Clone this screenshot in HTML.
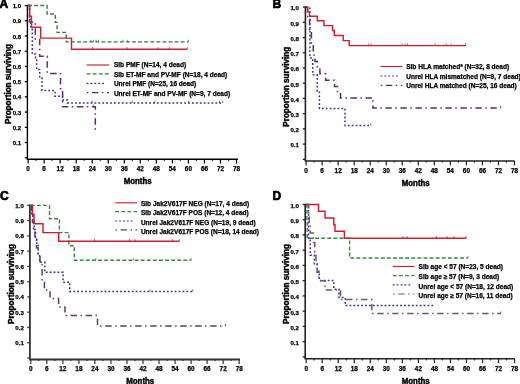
<!DOCTYPE html>
<html><head><meta charset="utf-8"><style>
html,body{margin:0;padding:0;background:#fff;overflow:hidden;width:520px;height:384px;}
svg{display:block;font-family:"Liberation Sans", sans-serif;will-change:transform;}
text{stroke:#000;stroke-width:0.25px;}
</style></head><body>
<svg width="520" height="384" viewBox="0 0 520 384">
<rect width="520" height="384" fill="#fff"/>
<text x="-0.6" y="8.1" font-size="12" font-weight="bold" style="stroke-width:0.7px">A</text>
<line x1="27.4" y1="4.8" x2="27.4" y2="159.2" stroke="#000" stroke-width="1.4"/>
<line x1="24.80" y1="157.70" x2="27.4" y2="157.70" stroke="#000" stroke-width="1.3"/>
<line x1="24.80" y1="142.49" x2="27.4" y2="142.49" stroke="#000" stroke-width="1.3"/>
<text x="21.2" y="145.09" font-size="6.1" font-weight="bold" text-anchor="end">0.1</text>
<line x1="24.80" y1="127.28" x2="27.4" y2="127.28" stroke="#000" stroke-width="1.3"/>
<text x="21.2" y="129.88" font-size="6.1" font-weight="bold" text-anchor="end">0.2</text>
<line x1="24.80" y1="112.07" x2="27.4" y2="112.07" stroke="#000" stroke-width="1.3"/>
<text x="21.2" y="114.67" font-size="6.1" font-weight="bold" text-anchor="end">0.3</text>
<line x1="24.80" y1="96.86" x2="27.4" y2="96.86" stroke="#000" stroke-width="1.3"/>
<text x="21.2" y="99.46" font-size="6.1" font-weight="bold" text-anchor="end">0.4</text>
<line x1="24.80" y1="81.65" x2="27.4" y2="81.65" stroke="#000" stroke-width="1.3"/>
<text x="21.2" y="84.25" font-size="6.1" font-weight="bold" text-anchor="end">0.5</text>
<line x1="24.80" y1="66.44" x2="27.4" y2="66.44" stroke="#000" stroke-width="1.3"/>
<text x="21.2" y="69.04" font-size="6.1" font-weight="bold" text-anchor="end">0.6</text>
<line x1="24.80" y1="51.23" x2="27.4" y2="51.23" stroke="#000" stroke-width="1.3"/>
<text x="21.2" y="53.83" font-size="6.1" font-weight="bold" text-anchor="end">0.7</text>
<line x1="24.80" y1="36.02" x2="27.4" y2="36.02" stroke="#000" stroke-width="1.3"/>
<text x="21.2" y="38.62" font-size="6.1" font-weight="bold" text-anchor="end">0.8</text>
<line x1="24.80" y1="20.81" x2="27.4" y2="20.81" stroke="#000" stroke-width="1.3"/>
<text x="21.2" y="23.41" font-size="6.1" font-weight="bold" text-anchor="end">0.9</text>
<line x1="24.80" y1="5.60" x2="27.4" y2="5.60" stroke="#000" stroke-width="1.3"/>
<text x="21.2" y="8.20" font-size="6.1" font-weight="bold" text-anchor="end">1.0</text>
<line x1="26.7" y1="159.2" x2="237.9" y2="159.2" stroke="#000" stroke-width="1.4"/>
<line x1="28.10" y1="159.2" x2="28.10" y2="163.6" stroke="#000" stroke-width="1.2"/>
<text x="28.10" y="170.9" font-size="6.4" font-weight="bold" text-anchor="middle">0</text>
<line x1="36.12" y1="159.2" x2="36.12" y2="160.79999999999998" stroke="#000" stroke-width="1.2"/>
<line x1="44.13" y1="159.2" x2="44.13" y2="163.6" stroke="#000" stroke-width="1.2"/>
<text x="44.13" y="170.9" font-size="6.4" font-weight="bold" text-anchor="middle">6</text>
<line x1="52.15" y1="159.2" x2="52.15" y2="160.79999999999998" stroke="#000" stroke-width="1.2"/>
<line x1="60.16" y1="159.2" x2="60.16" y2="163.6" stroke="#000" stroke-width="1.2"/>
<text x="60.16" y="170.9" font-size="6.4" font-weight="bold" text-anchor="middle">12</text>
<line x1="68.18" y1="159.2" x2="68.18" y2="160.79999999999998" stroke="#000" stroke-width="1.2"/>
<line x1="76.19" y1="159.2" x2="76.19" y2="163.6" stroke="#000" stroke-width="1.2"/>
<text x="76.19" y="170.9" font-size="6.4" font-weight="bold" text-anchor="middle">18</text>
<line x1="84.21" y1="159.2" x2="84.21" y2="160.79999999999998" stroke="#000" stroke-width="1.2"/>
<line x1="92.22" y1="159.2" x2="92.22" y2="163.6" stroke="#000" stroke-width="1.2"/>
<text x="92.22" y="170.9" font-size="6.4" font-weight="bold" text-anchor="middle">24</text>
<line x1="100.24" y1="159.2" x2="100.24" y2="160.79999999999998" stroke="#000" stroke-width="1.2"/>
<line x1="108.25" y1="159.2" x2="108.25" y2="163.6" stroke="#000" stroke-width="1.2"/>
<text x="108.25" y="170.9" font-size="6.4" font-weight="bold" text-anchor="middle">30</text>
<line x1="116.27" y1="159.2" x2="116.27" y2="160.79999999999998" stroke="#000" stroke-width="1.2"/>
<line x1="124.28" y1="159.2" x2="124.28" y2="163.6" stroke="#000" stroke-width="1.2"/>
<text x="124.28" y="170.9" font-size="6.4" font-weight="bold" text-anchor="middle">36</text>
<line x1="132.30" y1="159.2" x2="132.30" y2="160.79999999999998" stroke="#000" stroke-width="1.2"/>
<line x1="140.31" y1="159.2" x2="140.31" y2="163.6" stroke="#000" stroke-width="1.2"/>
<text x="140.31" y="170.9" font-size="6.4" font-weight="bold" text-anchor="middle">42</text>
<line x1="148.33" y1="159.2" x2="148.33" y2="160.79999999999998" stroke="#000" stroke-width="1.2"/>
<line x1="156.34" y1="159.2" x2="156.34" y2="163.6" stroke="#000" stroke-width="1.2"/>
<text x="156.34" y="170.9" font-size="6.4" font-weight="bold" text-anchor="middle">48</text>
<line x1="164.35" y1="159.2" x2="164.35" y2="160.79999999999998" stroke="#000" stroke-width="1.2"/>
<line x1="172.37" y1="159.2" x2="172.37" y2="163.6" stroke="#000" stroke-width="1.2"/>
<text x="172.37" y="170.9" font-size="6.4" font-weight="bold" text-anchor="middle">54</text>
<line x1="180.39" y1="159.2" x2="180.39" y2="160.79999999999998" stroke="#000" stroke-width="1.2"/>
<line x1="188.40" y1="159.2" x2="188.40" y2="163.6" stroke="#000" stroke-width="1.2"/>
<text x="188.40" y="170.9" font-size="6.4" font-weight="bold" text-anchor="middle">60</text>
<line x1="196.41" y1="159.2" x2="196.41" y2="160.79999999999998" stroke="#000" stroke-width="1.2"/>
<line x1="204.43" y1="159.2" x2="204.43" y2="163.6" stroke="#000" stroke-width="1.2"/>
<text x="204.43" y="170.9" font-size="6.4" font-weight="bold" text-anchor="middle">66</text>
<line x1="212.45" y1="159.2" x2="212.45" y2="160.79999999999998" stroke="#000" stroke-width="1.2"/>
<line x1="220.46" y1="159.2" x2="220.46" y2="163.6" stroke="#000" stroke-width="1.2"/>
<text x="220.46" y="170.9" font-size="6.4" font-weight="bold" text-anchor="middle">72</text>
<line x1="228.47" y1="159.2" x2="228.47" y2="160.79999999999998" stroke="#000" stroke-width="1.2"/>
<line x1="236.49" y1="159.2" x2="236.49" y2="163.6" stroke="#000" stroke-width="1.2"/>
<text x="236.49" y="170.9" font-size="6.4" font-weight="bold" text-anchor="middle">78</text>
<text x="123.7" y="183.8" font-size="8.6" font-weight="bold" textLength="27.9" lengthAdjust="spacingAndGlyphs" style="stroke-width:0.45px">Months</text>
<text transform="translate(10.9,84.0) rotate(-90)" x="0" y="0" font-size="8.15" font-weight="bold" text-anchor="middle" style="stroke-width:0.4px">Proportion surviving</text>
<text x="272.6" y="8.1" font-size="12" font-weight="bold" style="stroke-width:0.7px">B</text>
<line x1="305.4" y1="6.3" x2="305.4" y2="161.0" stroke="#222" stroke-width="1.6"/>
<line x1="302.80" y1="159.30" x2="305.4" y2="159.30" stroke="#222" stroke-width="1.3"/>
<line x1="302.80" y1="144.08" x2="305.4" y2="144.08" stroke="#222" stroke-width="1.3"/>
<text x="298.9" y="147.38" font-size="6.1" font-weight="bold" text-anchor="end">0.1</text>
<line x1="302.80" y1="128.86" x2="305.4" y2="128.86" stroke="#222" stroke-width="1.3"/>
<text x="298.9" y="132.16" font-size="6.1" font-weight="bold" text-anchor="end">0.2</text>
<line x1="302.80" y1="113.64" x2="305.4" y2="113.64" stroke="#222" stroke-width="1.3"/>
<text x="298.9" y="116.94" font-size="6.1" font-weight="bold" text-anchor="end">0.3</text>
<line x1="302.80" y1="98.42" x2="305.4" y2="98.42" stroke="#222" stroke-width="1.3"/>
<text x="298.9" y="101.72" font-size="6.1" font-weight="bold" text-anchor="end">0.4</text>
<line x1="302.80" y1="83.20" x2="305.4" y2="83.20" stroke="#222" stroke-width="1.3"/>
<text x="298.9" y="86.50" font-size="6.1" font-weight="bold" text-anchor="end">0.5</text>
<line x1="302.80" y1="67.98" x2="305.4" y2="67.98" stroke="#222" stroke-width="1.3"/>
<text x="298.9" y="71.28" font-size="6.1" font-weight="bold" text-anchor="end">0.6</text>
<line x1="302.80" y1="52.76" x2="305.4" y2="52.76" stroke="#222" stroke-width="1.3"/>
<text x="298.9" y="56.06" font-size="6.1" font-weight="bold" text-anchor="end">0.7</text>
<line x1="302.80" y1="37.54" x2="305.4" y2="37.54" stroke="#222" stroke-width="1.3"/>
<text x="298.9" y="40.84" font-size="6.1" font-weight="bold" text-anchor="end">0.8</text>
<line x1="302.80" y1="22.32" x2="305.4" y2="22.32" stroke="#222" stroke-width="1.3"/>
<text x="298.9" y="25.62" font-size="6.1" font-weight="bold" text-anchor="end">0.9</text>
<line x1="302.80" y1="7.10" x2="305.4" y2="7.10" stroke="#222" stroke-width="1.3"/>
<text x="298.9" y="10.40" font-size="6.1" font-weight="bold" text-anchor="end">1.0</text>
<line x1="304.7" y1="161.0" x2="514.6" y2="161.0" stroke="#222" stroke-width="1.6"/>
<line x1="306.10" y1="161.0" x2="306.10" y2="165.4" stroke="#222" stroke-width="1.2"/>
<text x="306.10" y="172.7" font-size="6.4" font-weight="bold" text-anchor="middle">0</text>
<line x1="314.12" y1="161.0" x2="314.12" y2="162.6" stroke="#222" stroke-width="1.2"/>
<line x1="322.13" y1="161.0" x2="322.13" y2="165.4" stroke="#222" stroke-width="1.2"/>
<text x="322.13" y="172.7" font-size="6.4" font-weight="bold" text-anchor="middle">6</text>
<line x1="330.15" y1="161.0" x2="330.15" y2="162.6" stroke="#222" stroke-width="1.2"/>
<line x1="338.16" y1="161.0" x2="338.16" y2="165.4" stroke="#222" stroke-width="1.2"/>
<text x="338.16" y="172.7" font-size="6.4" font-weight="bold" text-anchor="middle">12</text>
<line x1="346.18" y1="161.0" x2="346.18" y2="162.6" stroke="#222" stroke-width="1.2"/>
<line x1="354.19" y1="161.0" x2="354.19" y2="165.4" stroke="#222" stroke-width="1.2"/>
<text x="354.19" y="172.7" font-size="6.4" font-weight="bold" text-anchor="middle">18</text>
<line x1="362.21" y1="161.0" x2="362.21" y2="162.6" stroke="#222" stroke-width="1.2"/>
<line x1="370.22" y1="161.0" x2="370.22" y2="165.4" stroke="#222" stroke-width="1.2"/>
<text x="370.22" y="172.7" font-size="6.4" font-weight="bold" text-anchor="middle">24</text>
<line x1="378.24" y1="161.0" x2="378.24" y2="162.6" stroke="#222" stroke-width="1.2"/>
<line x1="386.25" y1="161.0" x2="386.25" y2="165.4" stroke="#222" stroke-width="1.2"/>
<text x="386.25" y="172.7" font-size="6.4" font-weight="bold" text-anchor="middle">30</text>
<line x1="394.27" y1="161.0" x2="394.27" y2="162.6" stroke="#222" stroke-width="1.2"/>
<line x1="402.28" y1="161.0" x2="402.28" y2="165.4" stroke="#222" stroke-width="1.2"/>
<text x="402.28" y="172.7" font-size="6.4" font-weight="bold" text-anchor="middle">36</text>
<line x1="410.30" y1="161.0" x2="410.30" y2="162.6" stroke="#222" stroke-width="1.2"/>
<line x1="418.31" y1="161.0" x2="418.31" y2="165.4" stroke="#222" stroke-width="1.2"/>
<text x="418.31" y="172.7" font-size="6.4" font-weight="bold" text-anchor="middle">42</text>
<line x1="426.33" y1="161.0" x2="426.33" y2="162.6" stroke="#222" stroke-width="1.2"/>
<line x1="434.34" y1="161.0" x2="434.34" y2="165.4" stroke="#222" stroke-width="1.2"/>
<text x="434.34" y="172.7" font-size="6.4" font-weight="bold" text-anchor="middle">48</text>
<line x1="442.36" y1="161.0" x2="442.36" y2="162.6" stroke="#222" stroke-width="1.2"/>
<line x1="450.37" y1="161.0" x2="450.37" y2="165.4" stroke="#222" stroke-width="1.2"/>
<text x="450.37" y="172.7" font-size="6.4" font-weight="bold" text-anchor="middle">54</text>
<line x1="458.39" y1="161.0" x2="458.39" y2="162.6" stroke="#222" stroke-width="1.2"/>
<line x1="466.40" y1="161.0" x2="466.40" y2="165.4" stroke="#222" stroke-width="1.2"/>
<text x="466.40" y="172.7" font-size="6.4" font-weight="bold" text-anchor="middle">60</text>
<line x1="474.42" y1="161.0" x2="474.42" y2="162.6" stroke="#222" stroke-width="1.2"/>
<line x1="482.43" y1="161.0" x2="482.43" y2="165.4" stroke="#222" stroke-width="1.2"/>
<text x="482.43" y="172.7" font-size="6.4" font-weight="bold" text-anchor="middle">66</text>
<line x1="490.45" y1="161.0" x2="490.45" y2="162.6" stroke="#222" stroke-width="1.2"/>
<line x1="498.46" y1="161.0" x2="498.46" y2="165.4" stroke="#222" stroke-width="1.2"/>
<text x="498.46" y="172.7" font-size="6.4" font-weight="bold" text-anchor="middle">72</text>
<line x1="506.48" y1="161.0" x2="506.48" y2="162.6" stroke="#222" stroke-width="1.2"/>
<line x1="514.49" y1="161.0" x2="514.49" y2="165.4" stroke="#222" stroke-width="1.2"/>
<text x="514.49" y="172.7" font-size="6.4" font-weight="bold" text-anchor="middle">78</text>
<text x="401.8" y="186.3" font-size="8.6" font-weight="bold" textLength="27.9" lengthAdjust="spacingAndGlyphs" style="stroke-width:0.45px">Months</text>
<text transform="translate(289.0,86.75) rotate(-90)" x="0" y="0" font-size="8.15" font-weight="bold" text-anchor="middle" style="stroke-width:0.4px">Proportion surviving</text>
<text x="0.0" y="200.4" font-size="12" font-weight="bold" style="stroke-width:0.7px">C</text>
<line x1="29.9" y1="204.5" x2="29.9" y2="359.5" stroke="#333" stroke-width="1.8"/>
<line x1="27.30" y1="358.00" x2="29.9" y2="358.00" stroke="#333" stroke-width="1.3"/>
<line x1="27.30" y1="342.73" x2="29.9" y2="342.73" stroke="#333" stroke-width="1.3"/>
<text x="23.8" y="345.23" font-size="6.1" font-weight="bold" text-anchor="end">0.1</text>
<line x1="27.30" y1="327.46" x2="29.9" y2="327.46" stroke="#333" stroke-width="1.3"/>
<text x="23.8" y="329.96" font-size="6.1" font-weight="bold" text-anchor="end">0.2</text>
<line x1="27.30" y1="312.19" x2="29.9" y2="312.19" stroke="#333" stroke-width="1.3"/>
<text x="23.8" y="314.69" font-size="6.1" font-weight="bold" text-anchor="end">0.3</text>
<line x1="27.30" y1="296.92" x2="29.9" y2="296.92" stroke="#333" stroke-width="1.3"/>
<text x="23.8" y="299.42" font-size="6.1" font-weight="bold" text-anchor="end">0.4</text>
<line x1="27.30" y1="281.65" x2="29.9" y2="281.65" stroke="#333" stroke-width="1.3"/>
<text x="23.8" y="284.15" font-size="6.1" font-weight="bold" text-anchor="end">0.5</text>
<line x1="27.30" y1="266.38" x2="29.9" y2="266.38" stroke="#333" stroke-width="1.3"/>
<text x="23.8" y="268.88" font-size="6.1" font-weight="bold" text-anchor="end">0.6</text>
<line x1="27.30" y1="251.11" x2="29.9" y2="251.11" stroke="#333" stroke-width="1.3"/>
<text x="23.8" y="253.61" font-size="6.1" font-weight="bold" text-anchor="end">0.7</text>
<line x1="27.30" y1="235.84" x2="29.9" y2="235.84" stroke="#333" stroke-width="1.3"/>
<text x="23.8" y="238.34" font-size="6.1" font-weight="bold" text-anchor="end">0.8</text>
<line x1="27.30" y1="220.57" x2="29.9" y2="220.57" stroke="#333" stroke-width="1.3"/>
<text x="23.8" y="223.07" font-size="6.1" font-weight="bold" text-anchor="end">0.9</text>
<line x1="27.30" y1="205.30" x2="29.9" y2="205.30" stroke="#333" stroke-width="1.3"/>
<text x="23.8" y="207.80" font-size="6.1" font-weight="bold" text-anchor="end">1.0</text>
<line x1="29.2" y1="359.5" x2="240.0" y2="359.5" stroke="#333" stroke-width="1.8"/>
<line x1="30.80" y1="359.5" x2="30.80" y2="363.9" stroke="#333" stroke-width="1.2"/>
<text x="30.80" y="371.35" font-size="6.4" font-weight="bold" text-anchor="middle">0</text>
<line x1="38.81" y1="359.5" x2="38.81" y2="361.1" stroke="#333" stroke-width="1.2"/>
<line x1="46.83" y1="359.5" x2="46.83" y2="363.9" stroke="#333" stroke-width="1.2"/>
<text x="46.83" y="371.35" font-size="6.4" font-weight="bold" text-anchor="middle">6</text>
<line x1="54.84" y1="359.5" x2="54.84" y2="361.1" stroke="#333" stroke-width="1.2"/>
<line x1="62.86" y1="359.5" x2="62.86" y2="363.9" stroke="#333" stroke-width="1.2"/>
<text x="62.86" y="371.35" font-size="6.4" font-weight="bold" text-anchor="middle">12</text>
<line x1="70.88" y1="359.5" x2="70.88" y2="361.1" stroke="#333" stroke-width="1.2"/>
<line x1="78.89" y1="359.5" x2="78.89" y2="363.9" stroke="#333" stroke-width="1.2"/>
<text x="78.89" y="371.35" font-size="6.4" font-weight="bold" text-anchor="middle">18</text>
<line x1="86.91" y1="359.5" x2="86.91" y2="361.1" stroke="#333" stroke-width="1.2"/>
<line x1="94.92" y1="359.5" x2="94.92" y2="363.9" stroke="#333" stroke-width="1.2"/>
<text x="94.92" y="371.35" font-size="6.4" font-weight="bold" text-anchor="middle">24</text>
<line x1="102.94" y1="359.5" x2="102.94" y2="361.1" stroke="#333" stroke-width="1.2"/>
<line x1="110.95" y1="359.5" x2="110.95" y2="363.9" stroke="#333" stroke-width="1.2"/>
<text x="110.95" y="371.35" font-size="6.4" font-weight="bold" text-anchor="middle">30</text>
<line x1="118.97" y1="359.5" x2="118.97" y2="361.1" stroke="#333" stroke-width="1.2"/>
<line x1="126.98" y1="359.5" x2="126.98" y2="363.9" stroke="#333" stroke-width="1.2"/>
<text x="126.98" y="371.35" font-size="6.4" font-weight="bold" text-anchor="middle">36</text>
<line x1="135.00" y1="359.5" x2="135.00" y2="361.1" stroke="#333" stroke-width="1.2"/>
<line x1="143.01" y1="359.5" x2="143.01" y2="363.9" stroke="#333" stroke-width="1.2"/>
<text x="143.01" y="371.35" font-size="6.4" font-weight="bold" text-anchor="middle">42</text>
<line x1="151.03" y1="359.5" x2="151.03" y2="361.1" stroke="#333" stroke-width="1.2"/>
<line x1="159.04" y1="359.5" x2="159.04" y2="363.9" stroke="#333" stroke-width="1.2"/>
<text x="159.04" y="371.35" font-size="6.4" font-weight="bold" text-anchor="middle">48</text>
<line x1="167.06" y1="359.5" x2="167.06" y2="361.1" stroke="#333" stroke-width="1.2"/>
<line x1="175.07" y1="359.5" x2="175.07" y2="363.9" stroke="#333" stroke-width="1.2"/>
<text x="175.07" y="371.35" font-size="6.4" font-weight="bold" text-anchor="middle">54</text>
<line x1="183.09" y1="359.5" x2="183.09" y2="361.1" stroke="#333" stroke-width="1.2"/>
<line x1="191.10" y1="359.5" x2="191.10" y2="363.9" stroke="#333" stroke-width="1.2"/>
<text x="191.10" y="371.35" font-size="6.4" font-weight="bold" text-anchor="middle">60</text>
<line x1="199.12" y1="359.5" x2="199.12" y2="361.1" stroke="#333" stroke-width="1.2"/>
<line x1="207.13" y1="359.5" x2="207.13" y2="363.9" stroke="#333" stroke-width="1.2"/>
<text x="207.13" y="371.35" font-size="6.4" font-weight="bold" text-anchor="middle">66</text>
<line x1="215.15" y1="359.5" x2="215.15" y2="361.1" stroke="#333" stroke-width="1.2"/>
<line x1="223.16" y1="359.5" x2="223.16" y2="363.9" stroke="#333" stroke-width="1.2"/>
<text x="223.16" y="371.35" font-size="6.4" font-weight="bold" text-anchor="middle">72</text>
<line x1="231.18" y1="359.5" x2="231.18" y2="361.1" stroke="#333" stroke-width="1.2"/>
<line x1="239.19" y1="359.5" x2="239.19" y2="363.9" stroke="#333" stroke-width="1.2"/>
<text x="239.19" y="371.35" font-size="6.4" font-weight="bold" text-anchor="middle">78</text>
<text x="126.3" y="383.8" font-size="8.6" font-weight="bold" textLength="27.9" lengthAdjust="spacingAndGlyphs" style="stroke-width:0.45px">Months</text>
<text transform="translate(14.0,284.0) rotate(-90)" x="0" y="0" font-size="8.15" font-weight="bold" text-anchor="middle" style="stroke-width:0.4px">Proportion surviving</text>
<text x="272.4" y="200.3" font-size="12" font-weight="bold" style="stroke-width:0.7px">D</text>
<line x1="305.2" y1="203.7" x2="305.2" y2="358.8" stroke="#222" stroke-width="1.6"/>
<line x1="302.60" y1="356.90" x2="305.2" y2="356.90" stroke="#222" stroke-width="1.3"/>
<line x1="302.60" y1="341.66" x2="305.2" y2="341.66" stroke="#222" stroke-width="1.3"/>
<text x="298.9" y="345.06" font-size="6.1" font-weight="bold" text-anchor="end">0.1</text>
<line x1="302.60" y1="326.42" x2="305.2" y2="326.42" stroke="#222" stroke-width="1.3"/>
<text x="298.9" y="329.82" font-size="6.1" font-weight="bold" text-anchor="end">0.2</text>
<line x1="302.60" y1="311.18" x2="305.2" y2="311.18" stroke="#222" stroke-width="1.3"/>
<text x="298.9" y="314.58" font-size="6.1" font-weight="bold" text-anchor="end">0.3</text>
<line x1="302.60" y1="295.94" x2="305.2" y2="295.94" stroke="#222" stroke-width="1.3"/>
<text x="298.9" y="299.34" font-size="6.1" font-weight="bold" text-anchor="end">0.4</text>
<line x1="302.60" y1="280.70" x2="305.2" y2="280.70" stroke="#222" stroke-width="1.3"/>
<text x="298.9" y="284.10" font-size="6.1" font-weight="bold" text-anchor="end">0.5</text>
<line x1="302.60" y1="265.46" x2="305.2" y2="265.46" stroke="#222" stroke-width="1.3"/>
<text x="298.9" y="268.86" font-size="6.1" font-weight="bold" text-anchor="end">0.6</text>
<line x1="302.60" y1="250.22" x2="305.2" y2="250.22" stroke="#222" stroke-width="1.3"/>
<text x="298.9" y="253.62" font-size="6.1" font-weight="bold" text-anchor="end">0.7</text>
<line x1="302.60" y1="234.98" x2="305.2" y2="234.98" stroke="#222" stroke-width="1.3"/>
<text x="298.9" y="238.38" font-size="6.1" font-weight="bold" text-anchor="end">0.8</text>
<line x1="302.60" y1="219.74" x2="305.2" y2="219.74" stroke="#222" stroke-width="1.3"/>
<text x="298.9" y="223.14" font-size="6.1" font-weight="bold" text-anchor="end">0.9</text>
<line x1="302.60" y1="204.50" x2="305.2" y2="204.50" stroke="#222" stroke-width="1.3"/>
<text x="298.9" y="207.90" font-size="6.1" font-weight="bold" text-anchor="end">1.0</text>
<line x1="304.5" y1="358.8" x2="514.6" y2="358.8" stroke="#222" stroke-width="1.6"/>
<line x1="306.20" y1="358.8" x2="306.20" y2="363.2" stroke="#222" stroke-width="1.2"/>
<text x="306.20" y="371.4" font-size="6.4" font-weight="bold" text-anchor="middle">0</text>
<line x1="314.21" y1="358.8" x2="314.21" y2="360.40000000000003" stroke="#222" stroke-width="1.2"/>
<line x1="322.23" y1="358.8" x2="322.23" y2="363.2" stroke="#222" stroke-width="1.2"/>
<text x="322.23" y="371.4" font-size="6.4" font-weight="bold" text-anchor="middle">6</text>
<line x1="330.25" y1="358.8" x2="330.25" y2="360.40000000000003" stroke="#222" stroke-width="1.2"/>
<line x1="338.26" y1="358.8" x2="338.26" y2="363.2" stroke="#222" stroke-width="1.2"/>
<text x="338.26" y="371.4" font-size="6.4" font-weight="bold" text-anchor="middle">12</text>
<line x1="346.27" y1="358.8" x2="346.27" y2="360.40000000000003" stroke="#222" stroke-width="1.2"/>
<line x1="354.29" y1="358.8" x2="354.29" y2="363.2" stroke="#222" stroke-width="1.2"/>
<text x="354.29" y="371.4" font-size="6.4" font-weight="bold" text-anchor="middle">18</text>
<line x1="362.31" y1="358.8" x2="362.31" y2="360.40000000000003" stroke="#222" stroke-width="1.2"/>
<line x1="370.32" y1="358.8" x2="370.32" y2="363.2" stroke="#222" stroke-width="1.2"/>
<text x="370.32" y="371.4" font-size="6.4" font-weight="bold" text-anchor="middle">24</text>
<line x1="378.33" y1="358.8" x2="378.33" y2="360.40000000000003" stroke="#222" stroke-width="1.2"/>
<line x1="386.35" y1="358.8" x2="386.35" y2="363.2" stroke="#222" stroke-width="1.2"/>
<text x="386.35" y="371.4" font-size="6.4" font-weight="bold" text-anchor="middle">30</text>
<line x1="394.37" y1="358.8" x2="394.37" y2="360.40000000000003" stroke="#222" stroke-width="1.2"/>
<line x1="402.38" y1="358.8" x2="402.38" y2="363.2" stroke="#222" stroke-width="1.2"/>
<text x="402.38" y="371.4" font-size="6.4" font-weight="bold" text-anchor="middle">36</text>
<line x1="410.39" y1="358.8" x2="410.39" y2="360.40000000000003" stroke="#222" stroke-width="1.2"/>
<line x1="418.41" y1="358.8" x2="418.41" y2="363.2" stroke="#222" stroke-width="1.2"/>
<text x="418.41" y="371.4" font-size="6.4" font-weight="bold" text-anchor="middle">42</text>
<line x1="426.43" y1="358.8" x2="426.43" y2="360.40000000000003" stroke="#222" stroke-width="1.2"/>
<line x1="434.44" y1="358.8" x2="434.44" y2="363.2" stroke="#222" stroke-width="1.2"/>
<text x="434.44" y="371.4" font-size="6.4" font-weight="bold" text-anchor="middle">48</text>
<line x1="442.45" y1="358.8" x2="442.45" y2="360.40000000000003" stroke="#222" stroke-width="1.2"/>
<line x1="450.47" y1="358.8" x2="450.47" y2="363.2" stroke="#222" stroke-width="1.2"/>
<text x="450.47" y="371.4" font-size="6.4" font-weight="bold" text-anchor="middle">54</text>
<line x1="458.49" y1="358.8" x2="458.49" y2="360.40000000000003" stroke="#222" stroke-width="1.2"/>
<line x1="466.50" y1="358.8" x2="466.50" y2="363.2" stroke="#222" stroke-width="1.2"/>
<text x="466.50" y="371.4" font-size="6.4" font-weight="bold" text-anchor="middle">60</text>
<line x1="474.51" y1="358.8" x2="474.51" y2="360.40000000000003" stroke="#222" stroke-width="1.2"/>
<line x1="482.53" y1="358.8" x2="482.53" y2="363.2" stroke="#222" stroke-width="1.2"/>
<text x="482.53" y="371.4" font-size="6.4" font-weight="bold" text-anchor="middle">66</text>
<line x1="490.55" y1="358.8" x2="490.55" y2="360.40000000000003" stroke="#222" stroke-width="1.2"/>
<line x1="498.56" y1="358.8" x2="498.56" y2="363.2" stroke="#222" stroke-width="1.2"/>
<text x="498.56" y="371.4" font-size="6.4" font-weight="bold" text-anchor="middle">72</text>
<line x1="506.57" y1="358.8" x2="506.57" y2="360.40000000000003" stroke="#222" stroke-width="1.2"/>
<line x1="514.59" y1="358.8" x2="514.59" y2="363.2" stroke="#222" stroke-width="1.2"/>
<text x="514.59" y="371.4" font-size="6.4" font-weight="bold" text-anchor="middle">78</text>
<text x="401.8" y="383.8" font-size="8.6" font-weight="bold" textLength="27.9" lengthAdjust="spacingAndGlyphs" style="stroke-width:0.45px">Months</text>
<text transform="translate(289.0,284.0) rotate(-90)" x="0" y="0" font-size="8.15" font-weight="bold" text-anchor="middle" style="stroke-width:0.4px">Proportion surviving</text>
<polyline points="28.10,5.50 29.60,5.50 29.60,17.00 31.00,17.00 31.00,28.00 32.30,28.00 32.30,54.00 35.50,54.00 35.50,60.00 36.60,60.00 36.60,69.40 39.70,69.40 39.70,78.00 42.00,78.00 42.00,90.60 55.00,90.60 55.00,96.30 62.50,96.30 62.50,100.00 67.50,100.00 67.50,102.90 222.70,102.90" fill="none" stroke="#2e2ea6" stroke-width="1.50" stroke-dasharray="1.8 2.1"/>
<polyline points="28.10,5.50 29.60,5.50 29.60,21.90 35.30,21.90 35.30,39.20 39.70,39.20 39.70,56.30 47.30,56.30 47.30,73.40 60.50,73.40 60.50,89.90 62.60,89.90 62.60,106.70 95.30,106.70 95.30,133.00" fill="none" stroke="#6a2474" stroke-width="1.50" stroke-dasharray="6.4 3.5 1.5 3.6"/>
<polyline points="28.10,5.50 47.10,5.50 47.10,14.00 55.30,14.00 55.30,22.40 57.10,22.40 57.10,32.40 66.30,32.40 66.30,41.90 188.30,41.90" fill="none" stroke="#2f7f3a" stroke-width="1.40" stroke-dasharray="3.9 2.2"/>
<polyline points="28.10,5.50 29.60,5.50 29.60,16.30 31.50,16.30 31.50,27.30 40.70,27.30 40.70,38.10 71.50,38.10 71.50,49.25 187.30,49.25" fill="none" stroke="#cc2030" stroke-width="1.45"/>
<line x1="92.5" y1="47.15" x2="92.5" y2="49.25" stroke="#cc2030" stroke-width="0.8"/>
<line x1="127.1" y1="47.15" x2="127.1" y2="49.25" stroke="#cc2030" stroke-width="0.8"/>
<line x1="158" y1="47.15" x2="158" y2="49.25" stroke="#cc2030" stroke-width="0.8"/>
<line x1="169.4" y1="47.15" x2="169.4" y2="49.25" stroke="#cc2030" stroke-width="0.8"/>
<line x1="187.2" y1="47.15" x2="187.2" y2="49.25" stroke="#cc2030" stroke-width="0.8"/>
<line x1="91" y1="39.80" x2="91" y2="41.9" stroke="#2f7f3a" stroke-width="0.8"/>
<line x1="93.5" y1="39.80" x2="93.5" y2="41.9" stroke="#2f7f3a" stroke-width="0.8"/>
<line x1="96" y1="39.80" x2="96" y2="41.9" stroke="#2f7f3a" stroke-width="0.8"/>
<line x1="98.3" y1="39.80" x2="98.3" y2="41.9" stroke="#2f7f3a" stroke-width="0.8"/>
<line x1="123" y1="39.80" x2="123" y2="41.9" stroke="#2f7f3a" stroke-width="0.8"/>
<line x1="127.7" y1="39.80" x2="127.7" y2="41.9" stroke="#2f7f3a" stroke-width="0.8"/>
<line x1="188.3" y1="39.80" x2="188.3" y2="41.9" stroke="#2f7f3a" stroke-width="0.8"/>
<line x1="92.2" y1="100.80" x2="92.2" y2="102.9" stroke="#2e2ea6" stroke-width="0.8"/>
<line x1="132.2" y1="100.80" x2="132.2" y2="102.9" stroke="#2e2ea6" stroke-width="0.8"/>
<line x1="154.8" y1="100.80" x2="154.8" y2="102.9" stroke="#2e2ea6" stroke-width="0.8"/>
<line x1="188.6" y1="100.80" x2="188.6" y2="102.9" stroke="#2e2ea6" stroke-width="0.8"/>
<line x1="219.4" y1="100.80" x2="219.4" y2="102.9" stroke="#2e2ea6" stroke-width="0.8"/>
<line x1="222.7" y1="100.80" x2="222.7" y2="102.9" stroke="#2e2ea6" stroke-width="0.8"/>
<line x1="93.7" y1="104.60" x2="93.7" y2="106.7" stroke="#6a2474" stroke-width="0.8"/>
<line x1="86.6" y1="65.0" x2="109.0" y2="65.0" fill="none" stroke="#cc2030" stroke-width="1.16"/>
<text x="113.9" y="67.15" font-size="6.55" font-weight="bold">Sib PMF (N=14, 4 dead)</text>
<line x1="86.6" y1="73.9" x2="109.0" y2="73.9" fill="none" stroke="#2f7f3a" stroke-width="1.12" stroke-dasharray="3.9 2.2"/>
<text x="113.9" y="76.50" font-size="6.55" font-weight="bold">Sib ET-MF and PV-MF (N=18, 4 dead)</text>
<line x1="86.6" y1="83.3" x2="104.6" y2="83.3" fill="none" stroke="#2e2ea6" stroke-width="1.20" stroke-dasharray="1.8 2.1"/>
<text x="113.9" y="86.20" font-size="6.55" font-weight="bold">Unrel PMF (N=25, 16 dead)</text>
<line x1="86.6" y1="92.7" x2="109.0" y2="92.7" fill="none" stroke="#6a2474" stroke-width="1.20" stroke-dasharray="6.4 3.5 1.5 3.6" stroke-dashoffset="9.6"/>
<text x="113.9" y="95.60" font-size="6.55" font-weight="bold">Unrel ET-MF and PV-MF (N=9, 7 dead)</text>
<polyline points="306.10,7.30 309.90,7.30 309.90,57.90 312.70,57.90 312.70,74.80 317.30,74.80 317.30,91.30 319.40,91.30 319.40,108.50 345.00,108.50 345.00,125.50 371.00,125.50" fill="none" stroke="#2e2ea6" stroke-width="1.50" stroke-dasharray="1.8 2.1"/>
<polyline points="306.10,7.30 307.60,7.30 307.60,19.40 309.60,19.40 309.60,31.60 311.40,31.60 311.40,43.30 313.30,43.30 313.30,55.00 315.00,55.00 315.00,61.50 317.30,61.50 317.30,67.60 319.90,67.60 319.90,73.80 325.60,73.80 325.60,80.20 334.50,80.20 334.50,86.50 337.50,86.50 337.50,92.30 340.50,92.30 340.50,97.90 373.00,97.90 373.00,108.00 500.70,108.00" fill="none" stroke="#5c2a6a" stroke-width="1.50" stroke-dasharray="6.4 3.5 1.5 3.6"/>
<polyline points="306.10,7.30 307.50,7.30 307.50,11.70 309.50,11.70 309.50,16.20 317.30,16.20 317.30,20.80 323.90,20.80 323.90,25.60 332.60,25.60 332.60,30.50 334.30,30.50 334.30,35.50 343.20,35.50 343.20,40.60 349.20,40.60 349.20,45.60 466.00,45.60" fill="none" stroke="#cc2030" stroke-width="1.45"/>
<line x1="368.8" y1="43.50" x2="368.8" y2="45.6" stroke="#cc2030" stroke-width="0.8"/>
<line x1="371" y1="43.50" x2="371" y2="45.6" stroke="#cc2030" stroke-width="0.8"/>
<line x1="402" y1="43.50" x2="402" y2="45.6" stroke="#cc2030" stroke-width="0.8"/>
<line x1="405" y1="43.50" x2="405" y2="45.6" stroke="#cc2030" stroke-width="0.8"/>
<line x1="407.5" y1="43.50" x2="407.5" y2="45.6" stroke="#cc2030" stroke-width="0.8"/>
<line x1="435" y1="43.50" x2="435" y2="45.6" stroke="#cc2030" stroke-width="0.8"/>
<line x1="446" y1="43.50" x2="446" y2="45.6" stroke="#cc2030" stroke-width="0.8"/>
<line x1="451" y1="43.50" x2="451" y2="45.6" stroke="#cc2030" stroke-width="0.8"/>
<line x1="465.5" y1="43.50" x2="465.5" y2="45.6" stroke="#cc2030" stroke-width="0.8"/>
<line x1="500.6" y1="105.90" x2="500.6" y2="108.0" stroke="#5c2a6a" stroke-width="0.8"/>
<line x1="370.8" y1="123.40" x2="370.8" y2="125.5" stroke="#2e2ea6" stroke-width="0.8"/>
<line x1="380.5" y1="66.5" x2="402.3" y2="66.5" fill="none" stroke="#cc2030" stroke-width="1.16"/>
<text x="406.2" y="69.30" font-size="6.55" font-weight="bold">Sib HLA matched* (N=32, 8 dead)</text>
<line x1="380.5" y1="76.0" x2="398.5" y2="76.0" fill="none" stroke="#2e2ea6" stroke-width="1.20" stroke-dasharray="1.8 2.1"/>
<text x="406.2" y="78.70" font-size="6.55" font-weight="bold">Unrel HLA mismatched (N=9, 7 dead)</text>
<line x1="380.5" y1="85.3" x2="402.3" y2="85.3" fill="none" stroke="#5c2a6a" stroke-width="1.20" stroke-dasharray="6.4 3.5 1.5 3.6" stroke-dashoffset="9.6"/>
<text x="406.2" y="88.10" font-size="6.55" font-weight="bold">Unrel HLA matched (N=25, 16 dead)</text>
<polyline points="30.80,205.40 31.80,205.40 31.80,213.40 32.80,213.40 32.80,221.40 34.20,221.40 34.20,229.50 35.50,229.50 35.50,237.50 36.80,237.50 36.80,245.50 38.20,245.50 38.20,253.60 39.60,253.60 39.60,262.30 44.80,262.30 44.80,272.30 63.10,272.30 63.10,282.20 69.75,282.20 69.75,291.60 193.10,291.60" fill="none" stroke="#2e2ea6" stroke-width="1.50" stroke-dasharray="1.8 2.1"/>
<polyline points="30.80,205.40 31.50,205.40 31.50,214.30 32.50,214.30 32.50,222.30 33.50,222.30 33.50,230.80 35.00,230.80 35.00,239.20 36.50,239.20 36.50,247.80 38.00,247.80 38.00,256.20 40.00,256.20 40.00,264.70 42.10,264.70 42.10,281.00 44.40,281.00 44.40,290.10 50.00,290.10 50.00,298.50 58.60,298.50 58.60,307.00 65.00,307.00 65.00,315.60 97.50,315.60 97.50,326.00 225.60,326.00" fill="none" stroke="#5e3a66" stroke-width="1.50" stroke-dasharray="6.4 3.5 1.5 3.6"/>
<polyline points="30.80,205.40 49.50,205.40 49.50,218.70 59.40,218.70 59.40,232.60 68.90,232.60 68.90,245.70 74.30,245.70 74.30,260.20 191.30,260.20" fill="none" stroke="#368a3e" stroke-width="1.40" stroke-dasharray="3.9 2.2"/>
<polyline points="30.80,205.40 32.50,205.40 32.50,214.40 34.10,214.40 34.10,223.70 43.00,223.70 43.00,232.60 58.70,232.60 58.70,241.30 179.30,241.30" fill="none" stroke="#cc2030" stroke-width="1.45"/>
<line x1="94.5" y1="239.20" x2="94.5" y2="241.3" stroke="#cc2030" stroke-width="0.8"/>
<line x1="129.5" y1="239.20" x2="129.5" y2="241.3" stroke="#cc2030" stroke-width="0.8"/>
<line x1="135" y1="239.20" x2="135" y2="241.3" stroke="#cc2030" stroke-width="0.8"/>
<line x1="172.5" y1="239.20" x2="172.5" y2="241.3" stroke="#cc2030" stroke-width="0.8"/>
<line x1="179.3" y1="239.20" x2="179.3" y2="241.3" stroke="#cc2030" stroke-width="0.8"/>
<line x1="95.8" y1="258.10" x2="95.8" y2="260.2" stroke="#368a3e" stroke-width="0.8"/>
<line x1="133.3" y1="258.10" x2="133.3" y2="260.2" stroke="#368a3e" stroke-width="0.8"/>
<line x1="191.0" y1="258.10" x2="191.0" y2="260.2" stroke="#368a3e" stroke-width="0.8"/>
<line x1="150" y1="289.50" x2="150" y2="291.6" stroke="#2e2ea6" stroke-width="0.8"/>
<line x1="192.8" y1="289.50" x2="192.8" y2="291.6" stroke="#2e2ea6" stroke-width="0.8"/>
<line x1="225.4" y1="323.90" x2="225.4" y2="326.0" stroke="#5e3a66" stroke-width="0.8"/>
<line x1="115.2" y1="202.8" x2="137.1" y2="202.8" fill="none" stroke="#cc2030" stroke-width="1.16"/>
<text x="140.9" y="205.90" font-size="6.55" font-weight="bold">Sib Jak2V617F NEG (N=17, 4 dead)</text>
<line x1="115.2" y1="211.6" x2="137.1" y2="211.6" fill="none" stroke="#368a3e" stroke-width="1.12" stroke-dasharray="3.9 2.2"/>
<text x="140.9" y="215.05" font-size="6.55" font-weight="bold">Sib Jak2V617F POS (N=12, 4 dead)</text>
<line x1="115.2" y1="221.0" x2="133.2" y2="221.0" fill="none" stroke="#2e2ea6" stroke-width="1.20" stroke-dasharray="1.8 2.1"/>
<text x="140.9" y="224.60" font-size="6.55" font-weight="bold">Unrel Jak2V617F NEG (N=19, 9 dead)</text>
<line x1="115.2" y1="229.9" x2="137.1" y2="229.9" fill="none" stroke="#5e3a66" stroke-width="1.20" stroke-dasharray="6.4 3.5 1.5 3.6" stroke-dashoffset="9.6"/>
<text x="140.9" y="233.80" font-size="6.55" font-weight="bold">Unrel Jak2V617F POS (N=18, 14 dead)</text>
<polyline points="306.20,204.50 308.50,204.50 308.50,238.30 310.20,238.30 310.20,255.30 314.40,255.30 314.40,263.80 317.20,263.80 317.20,272.20 319.20,272.20 319.20,280.50 333.80,280.50 333.80,289.20 339.00,289.20 339.00,297.60 345.25,297.60 345.25,305.50 433.50,305.50" fill="none" stroke="#2e2ea6" stroke-width="1.50" stroke-dasharray="1.8 2.1"/>
<polyline points="306.20,204.50 308.60,204.50 308.60,214.00 309.20,214.00 309.20,223.50 310.20,223.50 310.20,233.10 313.40,233.10 313.40,242.60 314.80,242.60 314.80,252.10 316.00,252.10 316.00,261.70 317.20,261.70 317.20,271.20 319.00,271.20 319.00,280.70 325.00,280.70 325.00,290.00 340.50,290.00 340.50,299.60 371.80,299.60 371.80,313.50 501.00,313.50" fill="none" stroke="#74507a" stroke-width="1.50" stroke-dasharray="6.4 3.5 1.5 3.6"/>
<polyline points="306.20,204.50 306.90,204.50 306.90,221.40 307.20,221.40 307.20,238.30 349.60,238.30 349.60,258.00 468.00,258.00" fill="none" stroke="#368a3e" stroke-width="1.40" stroke-dasharray="3.9 2.2"/>
<polyline points="306.20,204.50 318.50,204.50 318.50,211.30 325.00,211.30 325.00,217.90 333.80,217.90 333.80,224.70 335.00,224.70 335.00,231.30 344.40,231.30 344.40,238.20 466.30,238.20" fill="none" stroke="#cc2030" stroke-width="1.45"/>
<line x1="403" y1="236.10" x2="403" y2="238.2" stroke="#cc2030" stroke-width="0.8"/>
<line x1="407" y1="236.10" x2="407" y2="238.2" stroke="#cc2030" stroke-width="0.8"/>
<line x1="436.4" y1="236.10" x2="436.4" y2="238.2" stroke="#cc2030" stroke-width="0.8"/>
<line x1="447.1" y1="236.10" x2="447.1" y2="238.2" stroke="#cc2030" stroke-width="0.8"/>
<line x1="454" y1="236.10" x2="454" y2="238.2" stroke="#cc2030" stroke-width="0.8"/>
<line x1="466.0" y1="236.10" x2="466.0" y2="238.2" stroke="#cc2030" stroke-width="0.8"/>
<line x1="468.0" y1="255.90" x2="468.0" y2="258.0" stroke="#368a3e" stroke-width="0.8"/>
<line x1="500.8" y1="311.40" x2="500.8" y2="313.5" stroke="#74507a" stroke-width="0.8"/>
<line x1="392.8" y1="266.5" x2="414.5" y2="266.5" fill="none" stroke="#cc2030" stroke-width="1.16"/>
<text x="418.6" y="269.15" font-size="6.55" font-weight="bold">Sib age &lt; 57 (N=23, 5 dead)</text>
<line x1="392.8" y1="275.6" x2="414.5" y2="275.6" fill="none" stroke="#368a3e" stroke-width="1.12" stroke-dasharray="3.9 2.2"/>
<text x="418.6" y="279.05" font-size="6.55" font-weight="bold">Sib age ≥ 57 (N=9, 3 dead)</text>
<line x1="392.8" y1="284.9" x2="410.8" y2="284.9" fill="none" stroke="#2e2ea6" stroke-width="1.20" stroke-dasharray="1.8 2.1"/>
<text x="418.6" y="288.60" font-size="6.55" font-weight="bold">Unrel age &lt; 57 (N=18, 12 dead)</text>
<line x1="392.8" y1="294.0" x2="414.5" y2="294.0" fill="none" stroke="#74507a" stroke-width="1.20" stroke-dasharray="6.4 3.5 1.5 3.6" stroke-dashoffset="9.6"/>
<text x="418.6" y="297.80" font-size="6.55" font-weight="bold">Unrel age ≥ 57 (N=16, 11 dead)</text>
</svg>
</body></html>
